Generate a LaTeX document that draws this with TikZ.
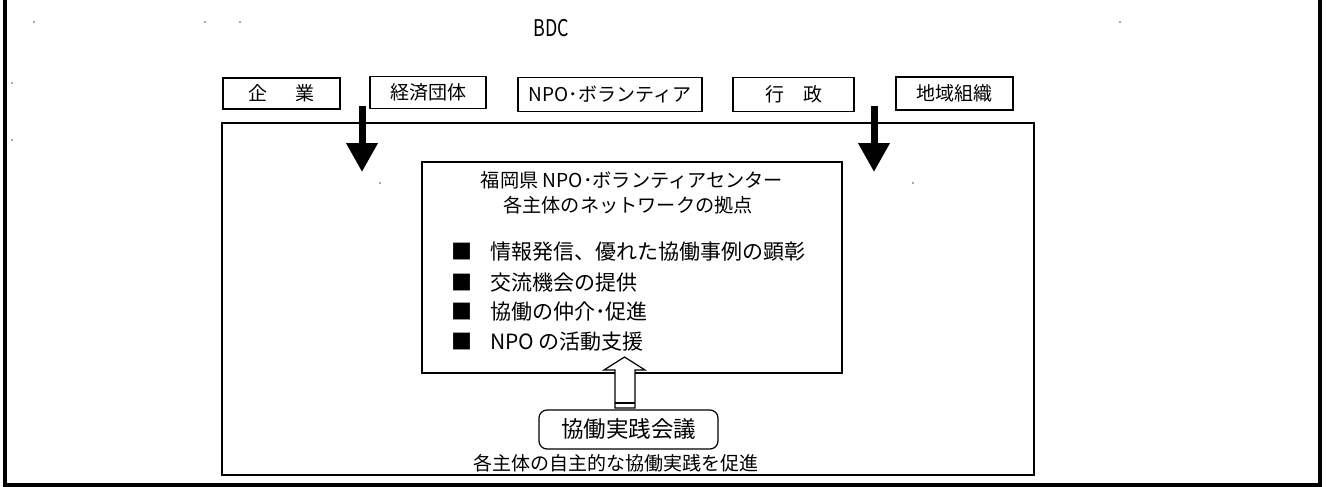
\documentclass[tikz,border=0pt]{standalone}
\usepackage{fontspec}
\setmainfont{Noto Sans CJK JP}
\usetikzlibrary{arrows.meta,calc}
\newcommand{\fsz}[1]{\fontsize{#1}{#1}\selectfont}
\begin{document}
\begin{tikzpicture}[x=1pt,y=-1pt,
  topbox/.style={draw,line width=1.3pt,inner sep=0pt,font=\fsz{19}},
  frame/.style={draw,line width=1.5pt,inner sep=0pt},
  bullet/.style={anchor=west,inner sep=0pt,font=\fsz{21}},
  bigarrow/.style={line width=7pt,-{Triangle[width=30pt,length=29pt]}},
  hollow/.style={draw,line width=1.2pt,fill=white},
  speck/.style={fill=black!70,circle,inner sep=0pt,minimum size=1.6pt}]
\useasboundingbox (0,0) rectangle (1326,487);
% page frame (open at top)
\draw[line width=4pt] (5.3,0) -- (5.3,485) -- (1320,485) -- (1320,0);
% stray specks
\foreach \p/\n in {{(34,22)}/s1,{(205,22)}/s2,{(240,22)}/s3,{(12,83)}/s4,{(12,140)}/s5,{(380,183)}/s6,{(913,183)}/s7,{(1120,22)}/s8}
  \node[speck] (\n) at \p {};
% title
\node[inner sep=0pt,font=\fsz{23}] (bdc) at (551,28) {\scalebox{0.78}[1]{BDC}};
% top boxes
\node[topbox,minimum width=117pt,minimum height=31pt] (kigyo) at (281.5,93.5) {企\hspace{1.5em}業};
\node[topbox,minimum width=116pt,minimum height=32pt] (keizai) at (428,92.5) {経済団体};
\node[topbox,minimum width=184pt,minimum height=34pt] (npo) at (610,94.5) {NPO･ボランティア};
\node[topbox,minimum width=121pt,minimum height=34pt] (gyosei) at (793.5,94.5) {行\hspace{1em}政};
\node[topbox,minimum width=117pt,minimum height=33pt] (chiiki) at (954.5,93.5) {地域組織};
% outer and inner boxes
\node[frame,minimum width=812pt,minimum height=352pt] (outer) at (628,299) {};
\node[frame,minimum width=420pt,minimum height=211pt] (hub) at (632,267.5) {};
% big arrows
\coordinate (a1s) at (362,106);
\coordinate (a1e) at (362,172);
\coordinate (a2s) at (874,106);
\coordinate (a2e) at (874,172);
\draw[bigarrow] (a1s) -- (a1e);
\draw[bigarrow] (a2s) -- (a2e);
% hub texts
\node[inner sep=0pt,font=\fsz{19.2}] (t1) at (632,180) {福岡県 NPO･ボランティアセンター};
\node[inner sep=0pt,font=\fsz{19.2}] (t2) at (628,205) {各主体のネットワークの拠点};
\node[bullet] (b1) at (451,252) {■\hspace{0.85em}情報発信、優れた協働事例の顕彰};
\node[bullet] (b2) at (451,283) {■\hspace{0.85em}交流機会の提供};
\node[bullet] (b3) at (451,312) {■\hspace{0.85em}協働の仲介･促進};
\node[bullet] (b4) at (451,342) {■\hspace{0.85em}NPO の活動支援};
% meeting box
\node[draw,rounded corners=8pt,line width=1.2pt,minimum width=179pt,minimum height=39pt,inner sep=0pt,font=\fsz{22.5}] (meet) at (628.5,429.5) {協働実践会議};
% hollow up arrow from meet to hub
\draw[hollow] (615,408) -- (615,370) -- (604,370) -- (624.5,357) -- (645,370) -- (635,370) -- (635,408) -- cycle;
\draw[line width=1.2pt] (615,403) -- (635,403);
% note
\node[inner sep=0pt,font=\fsz{19}] (note) at (616,463) {各主体の自主的な協働実践を促進};
\end{tikzpicture}
\end{document}
